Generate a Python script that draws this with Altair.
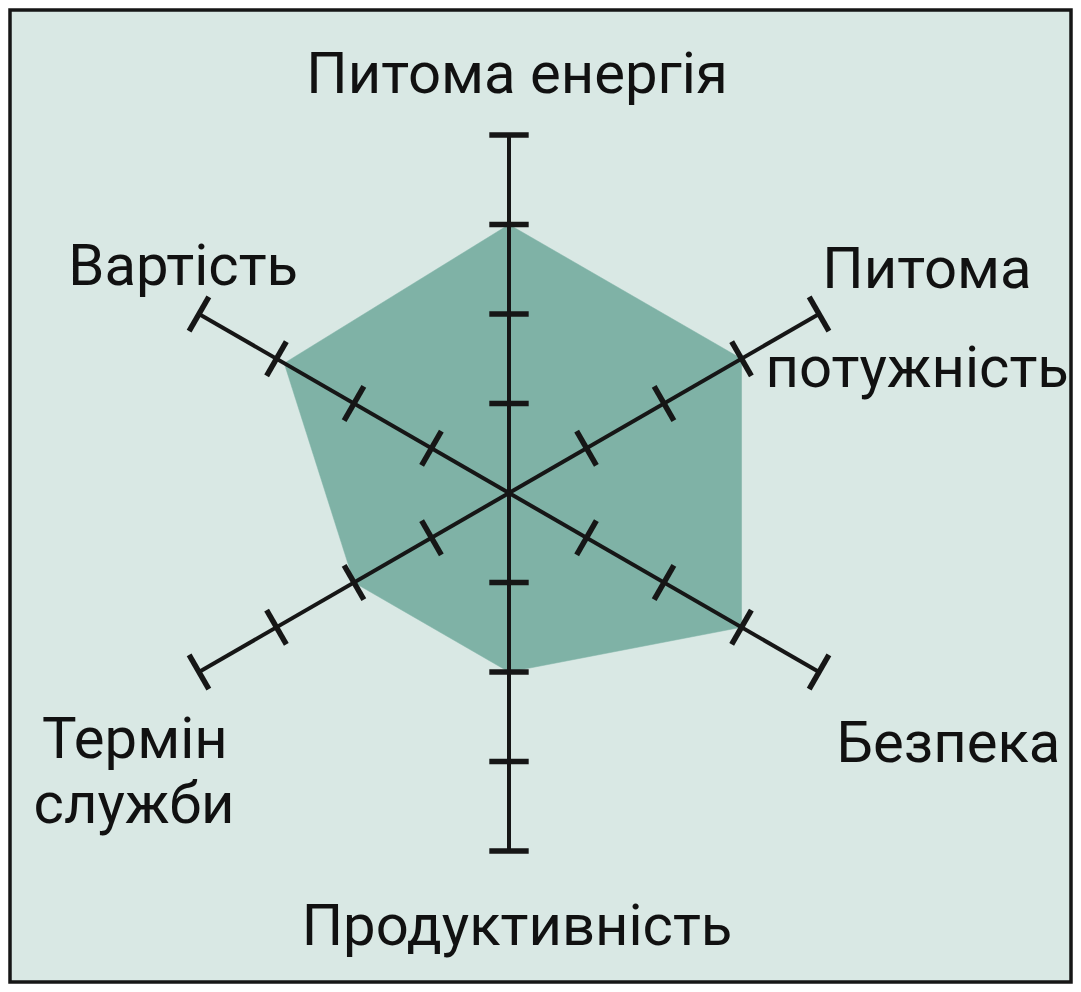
import math
import altair as alt
import pandas as pd

# ---- data ----
categories = ["Питома енергія", "Питома потужність", "Безпека",
              "Продуктивність", "Термін служби", "Вартість"]
angles_deg = [90, 30, -30, -90, -150, 150]
values = [3.0, 3.0, 3.0, 2.0, 2.0, 2.9]
tick_levels = [1, 2, 3]
axis_max = 4

# label lines (text, category index)
label_lines = ["Питома енергія", "Питома", "потужність", "Безпека",
               "Продуктивність", "Термін", "служби", "Вартість"]
label_cat = [0, 1, 1, 2, 3, 4, 4, 5]

# ---- layout (data units, 1 unit = 89.5 px) ----
label_pos = [(0.09, 4.47), (4.67, 2.29), (4.56, 1.18), (4.91, -3.01),
             (0.09, -5.05), (-4.18, -2.96), (-4.19, -3.69), (-3.64, 2.32)]
PX = 89.5
W, H = 1061, 972
CX, CY = 499, 483
xdom = [-CX / PX, (W - CX) / PX]
ydom = [-(H - CY) / PX, CY / PX]
TICK_HALF = 0.22

BG = "#d9e8e4"
FILL = "#7fb2a6"
INK = "#161616"

# polygon
poly_rows = []
for i, (a, v) in enumerate(zip(angles_deg + [angles_deg[0]], values + [values[0]])):
    t = math.radians(a)
    poly_rows.append({"i": i, "x": v * math.cos(t), "y": v * math.sin(t)})
poly_df = pd.DataFrame(poly_rows)

# axes
axis_rows = []
tick_rows = []
for c, a in zip(categories, angles_deg):
    t = math.radians(a)
    ux, uy = math.cos(t), math.sin(t)
    px, py = -uy, ux
    axis_rows.append({"cat": c, "x": 0.0, "y": 0.0, "x2": axis_max * ux, "y2": axis_max * uy})
    for r in tick_levels + [axis_max]:
        tick_rows.append({
            "cat": c, "r": r,
            "x": r * ux + TICK_HALF * px, "y": r * uy + TICK_HALF * py,
            "x2": r * ux - TICK_HALF * px, "y2": r * uy - TICK_HALF * py,
        })
axis_df = pd.DataFrame(axis_rows)
tick_df = pd.DataFrame(tick_rows)

label_df = pd.DataFrame({
    "text": label_lines,
    "x": [p[0] for p in label_pos],
    "y": [p[1] for p in label_pos],
})

xs = alt.Scale(domain=xdom, nice=False, zero=False)
ys = alt.Scale(domain=ydom, nice=False, zero=False)

poly = alt.Chart(poly_df).mark_line(fill=FILL, stroke=FILL, strokeWidth=0.5).encode(
    x=alt.X("x:Q", scale=xs, axis=None),
    y=alt.Y("y:Q", scale=ys, axis=None),
    order=alt.Order("i:Q"),
)

axes = alt.Chart(axis_df).mark_rule(color=INK, strokeWidth=4).encode(
    x=alt.X("x:Q", scale=xs, axis=None),
    y=alt.Y("y:Q", scale=ys, axis=None),
    x2="x2:Q", y2="y2:Q",
)

ticks = alt.Chart(tick_df).mark_rule(color=INK, strokeWidth=5.5).encode(
    x=alt.X("x:Q", scale=xs, axis=None),
    y=alt.Y("y:Q", scale=ys, axis=None),
    x2="x2:Q", y2="y2:Q",
)

labels = alt.Chart(label_df).mark_text(
    font="Roboto", fontSize=58, color="#111111",
    align="center", baseline="alphabetic",
).encode(
    x=alt.X("x:Q", scale=xs, axis=None),
    y=alt.Y("y:Q", scale=ys, axis=None),
    text="text:N",
)

chart = alt.layer(poly, axes, ticks, labels).properties(
    width=W, height=H, padding=2,
    autosize=alt.AutoSizeParams(type="none"),
    background="#ffffff",
).configure_view(fill=BG, stroke=INK, strokeWidth=3.5)

chart.save("out.html", embed_options={"renderer": "svg", "actions": False})
